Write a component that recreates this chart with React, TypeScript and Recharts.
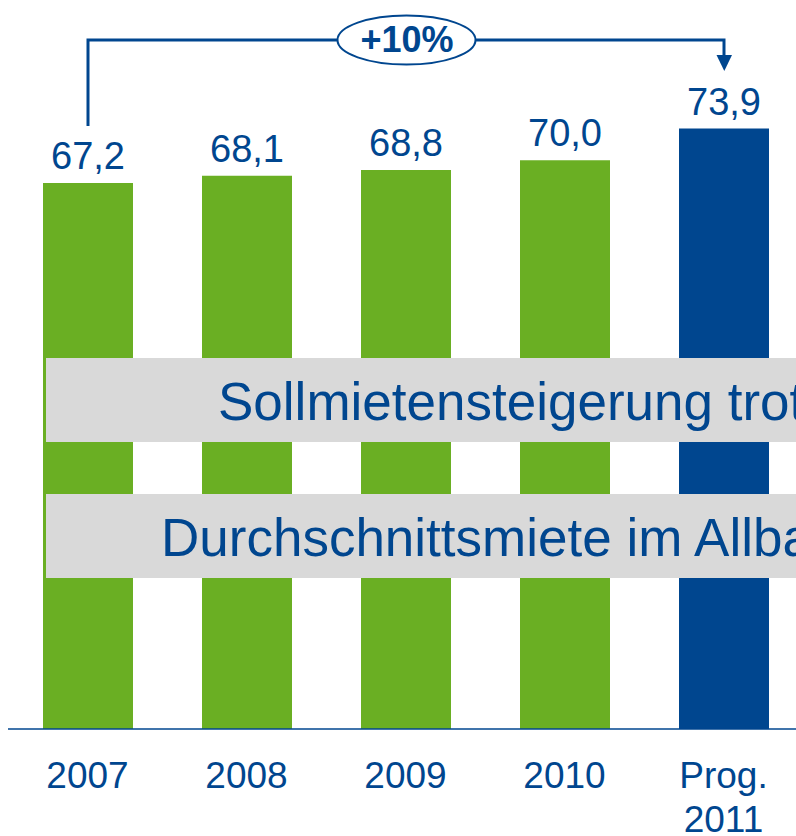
import React from "react"
import { BarChart, Bar, XAxis, YAxis, Cell, LabelList } from "recharts"

// Durchschnittsmiete je Jahr (Werte aus der Grafik)
const years = ["2007", "2008", "2009", "2010", "Prog.\n2011"]
const rents = [67.2, 68.1, 68.8, 70.0, 73.9]
const barColors = ["#6AAF23", "#6AAF23", "#6AAF23", "#6AAF23", "#00468F"]

const bandTexts = ["Sollmietensteigerung trotz", "Durchschnittsmiete im Allbau"]
const growthLabel = "+10%"

const BLUE = "#00468F"
const FONT = "'Liberation Sans', Arial, Helvetica, sans-serif"

const chartData = years.map((year, i) => ({ year, value: rents[i] }))

const formatValue = (v: any) => Number(v).toFixed(1).replace(".", ",")

const YearTick = (props: any) => {
  const { x, y, payload } = props
  const lines = String(payload.value).split("\n")
  return (
    <text x={x} y={y} textAnchor="middle" fill={BLUE} fontSize={37} fontFamily={FONT}>
      {lines.map((line, i) => (
        <tspan key={i} x={x} dy={i === 0 ? 58.5 : 44.5}>
          {line}
        </tspan>
      ))}
    </text>
  )
}

export default function App() {
  return (
    <div style={{ position: "absolute", left: 0, top: 0, width: 796, height: 836, overflow: "hidden", background: "#fff" }}>
      <BarChart
        width={812}
        height={836}
        data={chartData}
        margin={{ top: 79, right: 9, bottom: 77, left: 8 }}
      >
        <YAxis hide domain={[0, 80]} />
        <XAxis
          dataKey="year"
          height={30}
          tickLine={false}
          tickSize={0}
          tickMargin={0}
          axisLine={{ stroke: BLUE, strokeWidth: 1.6 }}
          tick={<YearTick />}
          interval={0}
        />
        <Bar dataKey="value" barSize={90} isAnimationActive={false}>
          {chartData.map((entry, index) => (
            <Cell key={`cell-${index}`} fill={barColors[index]} />
          ))}
          <LabelList
            dataKey="value"
            position="top"
            offset={14}
            formatter={formatValue}
            fill={BLUE}
            fontSize={38}
            fontFamily={FONT}
          />
        </Bar>
      </BarChart>

      {/* Textbalken und Pfeil mit Steigerung */}
      <svg
        width={796}
        height={836}
        style={{ position: "absolute", left: 0, top: 0, pointerEvents: "none" }}
      >
        <rect x={46} y={358} width={760} height={84} fill="#D9D9D9" />
        <text x={218} y={420} fill={BLUE} fontSize={53} fontFamily={FONT}>
          {bandTexts[0]}
        </text>
        <rect x={46} y={494} width={760} height={84} fill="#D9D9D9" />
        <text x={161} y={556} fill={BLUE} fontSize={53} fontFamily={FONT}>
          {bandTexts[1]}
        </text>

        <polyline
          points="88,126 88,40 724,40 724,56"
          fill="none"
          stroke={BLUE}
          strokeWidth={3}
        />
        <polygon points="716.5,55 732,55 724.3,71" fill={BLUE} />
        <ellipse cx={406.5} cy={40} rx={69} ry={24.5} fill="#fff" stroke={BLUE} strokeWidth={2} />
        <text
          x={407}
          y={52}
          textAnchor="middle"
          fill={BLUE}
          fontSize={36}
          fontWeight="bold"
          fontFamily={FONT}
        >
          {growthLabel}
        </text>
      </svg>
    </div>
  )
}
